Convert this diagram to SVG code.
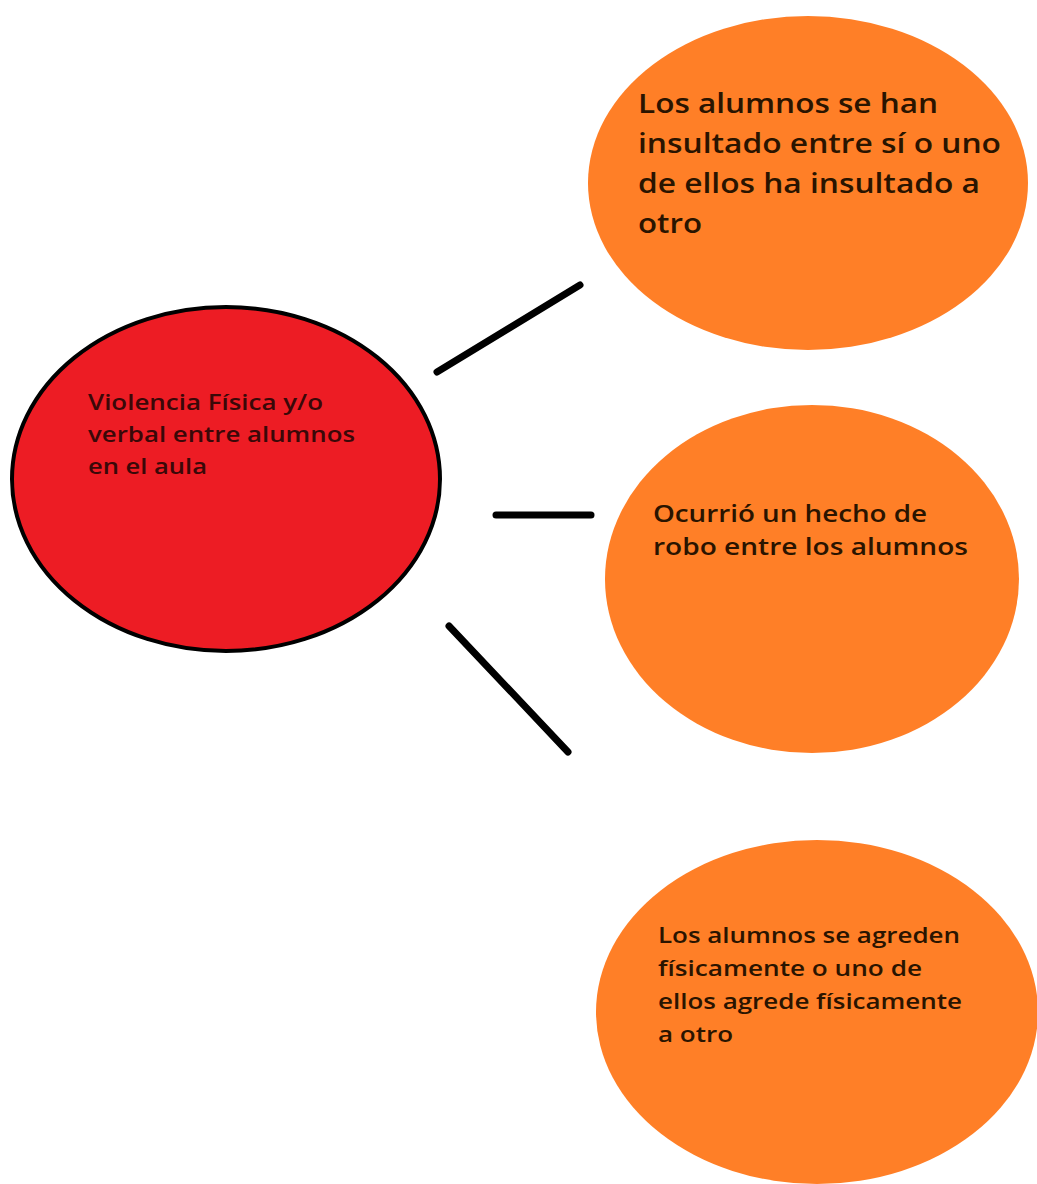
<svg xmlns="http://www.w3.org/2000/svg" width="1037" height="1184" viewBox="0 0 1037 1184">
  <style>
    .main { fill: #ED1C24; stroke: #000; stroke-width: 4; }
    .sub { fill: #FF7F27; }
    .link { stroke: #000; stroke-width: 7; stroke-linecap: round; fill: none; }
    text { font-family: "Open Sans", "Noto Sans", "Liberation Sans", sans-serif; font-weight: 600; }
    .t-main { fill: #3a0808; font-size: 21px; }
    .t-sub { fill: #2a1400; }
  </style>
  <rect width="1037" height="1184" fill="#fff"/>

  <g id="connectors">
    <line class="link" x1="437" y1="372" x2="580" y2="285"/>
    <line class="link" x1="496" y1="515" x2="591" y2="515"/>
    <line class="link" x1="449" y1="626" x2="568" y2="752"/>
  </g>

  <g id="node-violencia">
    <ellipse class="main" cx="226" cy="479" rx="214" ry="172"/>
    <text class="t-main" lengthAdjust="spacingAndGlyphs">
      <tspan x="88" y="410" textLength="235" lengthAdjust="spacingAndGlyphs">Violencia Física y/o</tspan>
      <tspan x="88" y="442" textLength="267" lengthAdjust="spacingAndGlyphs">verbal entre alumnos</tspan>
      <tspan x="88" y="474" textLength="119" lengthAdjust="spacingAndGlyphs">en el aula</tspan>
    </text>
  </g>

  <g id="node-insultos">
    <ellipse class="sub" cx="808" cy="183" rx="220" ry="167"/>
    <text class="t-sub" font-size="27" lengthAdjust="spacingAndGlyphs">
      <tspan x="638" y="113" textLength="300" lengthAdjust="spacingAndGlyphs">Los alumnos se han</tspan>
      <tspan x="638" y="153" textLength="363" lengthAdjust="spacingAndGlyphs">insultado entre sí o uno</tspan>
      <tspan x="638" y="193" textLength="342" lengthAdjust="spacingAndGlyphs">de ellos ha insultado a</tspan>
      <tspan x="638" y="233" textLength="64" lengthAdjust="spacingAndGlyphs">otro</tspan>
    </text>
  </g>

  <g id="node-robo">
    <ellipse class="sub" cx="812" cy="579" rx="207" ry="174"/>
    <text class="t-sub" font-size="23" lengthAdjust="spacingAndGlyphs">
      <tspan x="653" y="522" textLength="274" lengthAdjust="spacingAndGlyphs">Ocurrió un hecho de</tspan>
      <tspan x="653" y="555" textLength="315" lengthAdjust="spacingAndGlyphs">robo entre los alumnos</tspan>
    </text>
  </g>

  <g id="node-agresion">
    <ellipse class="sub" cx="817" cy="1012" rx="221" ry="172"/>
    <text class="t-sub" font-size="22" lengthAdjust="spacingAndGlyphs">
      <tspan x="658" y="943" textLength="302" lengthAdjust="spacingAndGlyphs">Los alumnos se agreden</tspan>
      <tspan x="658" y="976" textLength="264" lengthAdjust="spacingAndGlyphs">físicamente o uno de</tspan>
      <tspan x="658" y="1009" textLength="304" lengthAdjust="spacingAndGlyphs">ellos agrede físicamente</tspan>
      <tspan x="658" y="1042" textLength="75" lengthAdjust="spacingAndGlyphs">a otro</tspan>
    </text>
  </g>
</svg>
